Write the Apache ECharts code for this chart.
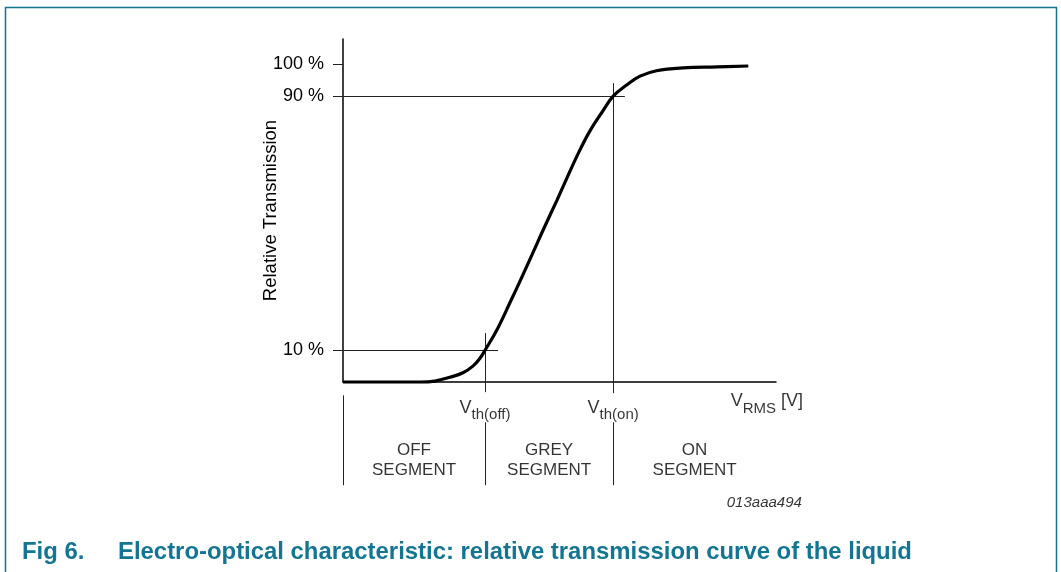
<!DOCTYPE html>
<html>
<head>
<meta charset="utf-8">
<title>Electro-optical characteristic</title>
<script src="https://cdn.jsdelivr.net/npm/echarts@6/dist/echarts.min.js"></script>
<style>
html, body { margin:0; padding:0; background:#fff; }
#chart { width:1061px; height:572px; }
</style>
</head>
<body>
<div id="chart"></div>
<script>
// transmission curve (x: V_RMS in % of axis length, y: relative transmission %)
var voltage      = [0, 17.8, 21.2, 24.7, 27.7, 30.0, 31.6, 32.8, 35.5, 38.6, 41.6, 43.9, 46.3, 49.4, 52.4, 54.7, 57.0, 59.7, 62.4, 65.5, 68.6, 72.4, 78.6, 86.4, 93.6];
var transmission = [0, 0, 0.3, 1.5, 2.9, 5.0, 7.4, 10, 16.3, 25.1, 33.9, 40.8, 48.1, 57.2, 66.3, 73.0, 79.0, 84.7, 90, 93.5, 96.3, 98.0, 98.9, 99.2, 99.5];

var yTicks = [10, 90, 100];
var thresholds = [32.8, 62.4];          // Vth(off), Vth(on)
var thresholdNames = ['off', 'on'];
var segmentNames = ['OFF', 'GREY', 'ON'];
var figNo = 'Fig 6.';
var figTitle = 'Electro-optical characteristic: relative transmission curve of the liquid';
var figCode = '013aaa494';

var FONT = '"Liberation Sans", Arial, Helvetica, sans-serif';
var TEAL = '#137591';

var curve = voltage.map(function (v, i) { return [v, transmission[i]]; });

var vOff = thresholds[0], vOn = thresholds[1];
var guides = [
    [[0, 90], [vOn + 2.7, 90]],
    [[0, 10], [vOff + 3, 10]],
    [[vOff, 15.4], [vOff, -3.2]],
    [[vOn, 94.1], [vOn, -3.5]],
    [[0, -4.2], [0, -32.5]],
    [[vOff, -12.7], [vOff, -32.5]],
    [[vOn, -12.7], [vOn, -32.5]]
];

var bounds = [0].concat(thresholds).concat([100]);
var labels = [];
thresholds.forEach(function (v, i) {
    labels.push({ value: [v, -9.2], name: '{v|V}{s|th(' + thresholdNames[i] + ')}' });
});
segmentNames.forEach(function (s, i) {
    labels.push({ value: [(bounds[i] + bounds[i + 1]) / 2, -24.6], name: '{seg|' + s + '}\n{seg|SEGMENT}' });
});
labels.push({ value: [97.9, -7.2], name: '{v|V}{s|RMS}{v| [V]}' });
labels.push({ value: [97.3, -37.9], name: '{code|' + figCode + '}' });

var chart = echarts.init(document.getElementById('chart'));
chart.setOption({
    animation: false,
    textStyle: { fontFamily: FONT, color: '#000' },
    title: [
        { text: figNo, left: 22, top: 540, padding: 0,
          textStyle: { fontFamily: FONT, fontSize: 23.9, fontWeight: 'bold', color: TEAL } },
        { text: figTitle, left: 118, top: 540, padding: 0,
          textStyle: { fontFamily: FONT, fontSize: 23.9, fontWeight: 'bold', color: TEAL } }
    ],
    graphic: [{
        type: 'rect',
        shape: { x: 5.5, y: 7.5, width: 1051, height: 600 },
        style: { fill: 'none', stroke: TEAL, lineWidth: 1.5 },
        silent: true
    }],
    grid: { left: 343, right: 285, top: 39, bottom: 190 },
    xAxis: {
        type: 'value', min: 0, max: 100,
        axisLine: { onZero: false, lineStyle: { color: '#000', width: 1.5 } },
        axisTick: { show: false },
        axisLabel: { show: false },
        splitLine: { show: false }
    },
    yAxis: {
        type: 'value', min: 0, max: 108,
        name: 'Relative Transmission',
        nameLocation: 'middle',
        nameGap: 63,
        nameMoveOverlap: false,
        nameTextStyle: { fontFamily: FONT, fontSize: 18.5, color: '#000' },
        axisLine: { show: true, lineStyle: { color: '#000', width: 1.5 } },
        axisTick: { show: true, customValues: yTicks, length: 10, lineStyle: { color: '#222', width: 1 } },
        axisLabel: {
            customValues: yTicks, margin: 19, fontSize: 18, color: '#000', fontFamily: FONT,
            formatter: '{value} %'
        },
        splitLine: { show: false }
    },
    series: [
        {
            name: 'guides',
            type: 'lines',
            coordinateSystem: 'cartesian2d',
            clip: false,
            silent: true,
            lineStyle: { color: '#222', width: 1, opacity: 1, curveness: 0 },
            data: guides.map(function (g) { return { coords: g }; })
        },
        {
            name: 'Relative Transmission',
            type: 'line',
            data: curve,
            symbol: 'none',
            smooth: 0.4,
            clip: false,
            z: 5,
            lineStyle: { color: '#000', width: 3.2 }
        },
        {
            name: 'labels',
            type: 'scatter',
            clip: false,
            silent: true,
            symbolSize: 0,
            itemStyle: { color: 'transparent' },
            data: labels,
            label: {
                show: true,
                position: 'inside',
                align: 'center',
                verticalAlign: 'middle',
                color: '#000',
                textBorderWidth: 0,
                formatter: function (p) { return p.name; },
                rich: {
                    v: { fontFamily: FONT, fontSize: 18, color: '#000', padding: [0, 0, 7, 0] },
                    s: { fontFamily: FONT, fontSize: 15, color: '#000', padding: [7, 0, 0, 0] },
                    seg: { fontFamily: FONT, fontSize: 17, color: '#000', lineHeight: 20 },
                    code: { fontFamily: FONT, fontSize: 15, fontStyle: 'italic', color: '#000' }
                }
            }
        }
    ]
});
</script>
</body>
</html>
